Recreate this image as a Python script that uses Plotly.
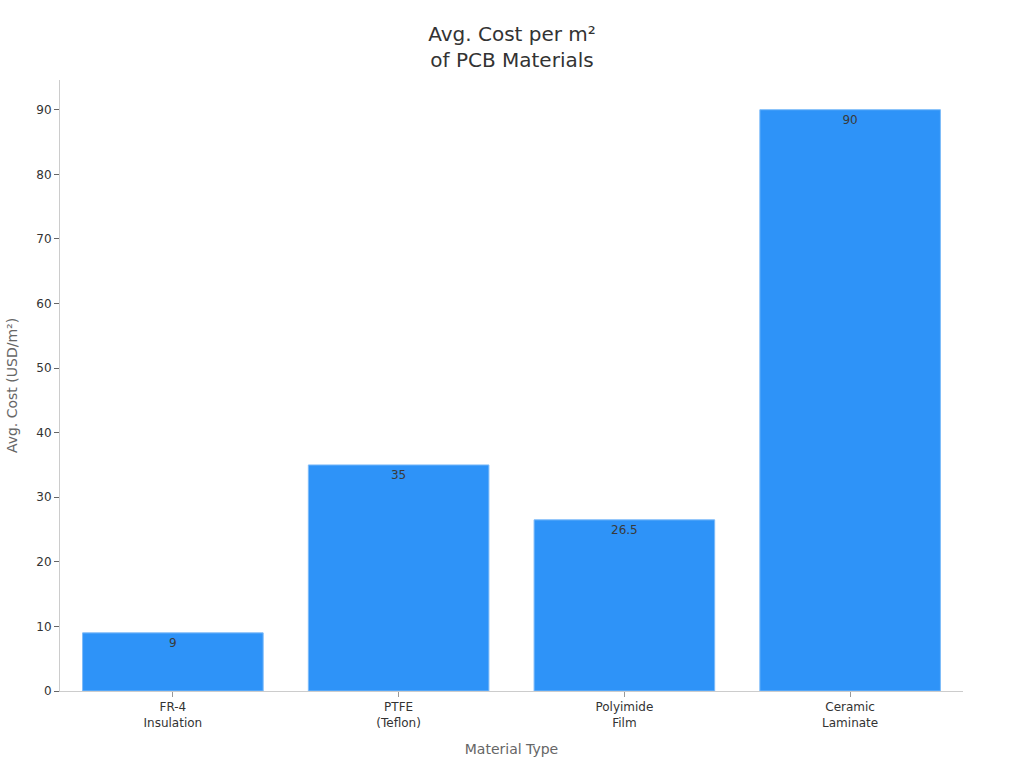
import plotly.graph_objects as go

# data
materials = ["FR-4<br>Insulation", "PTFE<br>(Teflon)", "Polyimide<br>Film", "Ceramic<br>Laminate"]
avg_cost = [9, 35, 26.5, 90]

fig = go.Figure()
fig.add_trace(go.Bar(
    x=materials, y=avg_cost,
    text=[str(v) for v in avg_cost],
    textposition="inside", insidetextanchor="end",
    textfont=dict(color="#3a3a3a", size=12),
    marker=dict(color="#2E93F8", line=dict(color="#7DBBF9", width=1)),
))

fig.update_layout(
    width=1024, height=768, autosize=False,
    font=dict(family="DejaVu Sans", color="#333333"),
    title=dict(text="Avg. Cost per m²<br>of PCB Materials", x=0.5, xanchor="center",
               y=0.947, yanchor="top", font=dict(size=20, color="#333333")),
    paper_bgcolor="white", plot_bgcolor="white",
    margin=dict(l=60, r=61, t=80, b=77),
    bargap=0.2, showlegend=False,
)
fig.update_xaxes(
    title=dict(text="Material Type", font=dict(size=14, color="#666666")),
    showline=True, linecolor="#cccccc", ticks="outside", tickcolor="#999999", ticklen=5,
    tickfont=dict(size=12, color="#333333"), showgrid=False,
)
fig.update_yaxes(
    title=dict(text="Avg. Cost (USD/m²)", font=dict(size=14, color="#666666")),
    range=[0, 94.6], dtick=10, showline=True, linecolor="#cccccc",
    ticks="outside", tickcolor="#666666", ticklen=5,
    tickfont=dict(size=12, color="#333333"), showgrid=False, zeroline=False,
)

# page margin off so the 1024x768 figure sits at the window corner
fig.write_html("out.html", config={"displayModeBar": False},
               post_script="document.body.style.margin='0';")
